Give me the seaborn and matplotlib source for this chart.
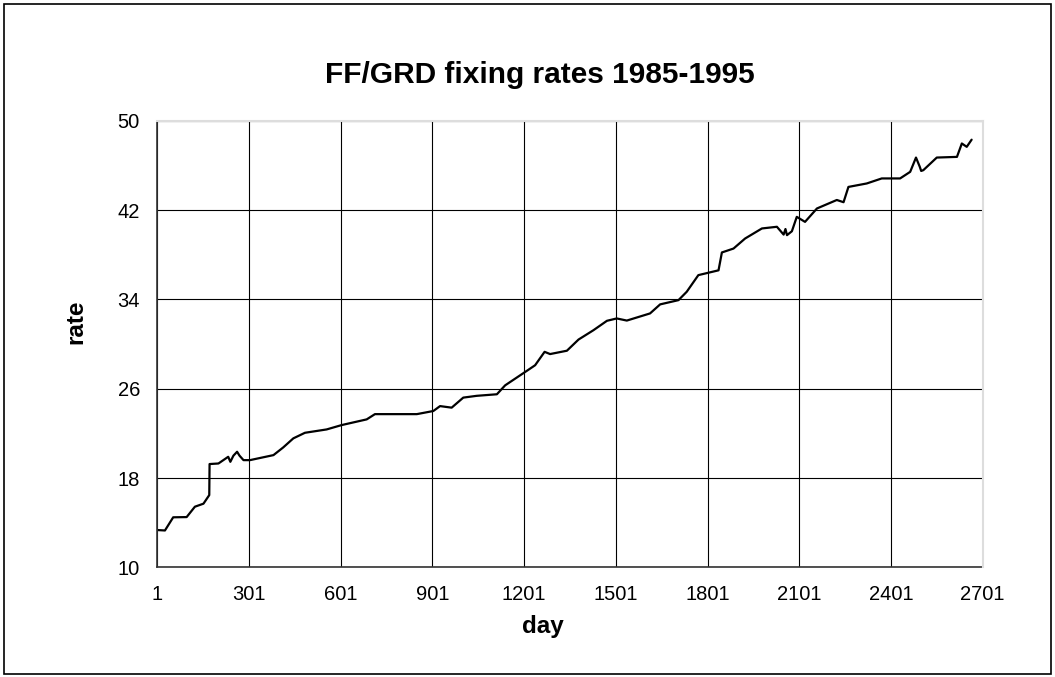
import matplotlib
matplotlib.use("Agg")
import matplotlib.pyplot as plt
from matplotlib.patches import Rectangle
import seaborn as sns

# breakpoints of the rate curve
days = [1, 26, 53, 97, 124, 152, 171, 172, 201, 233, 240, 250, 262, 270, 283, 304,
        381, 413, 446, 484, 555, 604, 686, 713, 850, 904, 926, 964, 1002, 1046,
        1112, 1139, 1210, 1237, 1268, 1286, 1341, 1379, 1428, 1472, 1504, 1537,
        1613, 1646, 1706, 1733, 1771, 1837, 1848, 1886, 1924, 1979, 2028, 2050,
        2056, 2061, 2077, 2093, 2120, 2159, 2224, 2246, 2262, 2322, 2371, 2431,
        2464, 2483, 2495, 2500, 2507, 2551, 2617, 2633, 2649, 2665]
rate = [13.34, 13.3, 14.48, 14.5, 15.43, 15.7, 16.47, 19.25, 19.3, 19.9, 19.45,
        20.0, 20.35, 20.0, 19.6, 19.6, 20.05, 20.74, 21.55, 22.05, 22.35, 22.74,
        23.25, 23.72, 23.72, 24.0, 24.44, 24.3, 25.2, 25.36, 25.5, 26.3, 27.6,
        28.1, 29.3, 29.1, 29.4, 30.4, 31.24, 32.08, 32.29, 32.1, 32.74, 33.55,
        33.93, 34.68, 36.17, 36.6, 38.2, 38.55, 39.45, 40.35, 40.5, 39.8, 40.3,
        39.75, 40.1, 41.39, 40.94, 42.14, 42.9, 42.7, 44.07, 44.38, 44.83, 44.83,
        45.42, 46.7, 45.9, 45.5, 45.57, 46.7, 46.76, 47.96, 47.66, 48.3]

xtick_vals = list(range(1, 2702, 300))
ytick_vals = [10, 18, 26, 34, 42, 50]

sns.set_style("white")
plt.rcParams['font.family'] = ['Liberation Sans', 'DejaVu Sans']
plt.rcParams['text.color'] = 'black'
plt.rcParams['xtick.color'] = 'black'
plt.rcParams['ytick.color'] = 'black'

fig = plt.figure(figsize=(10.55, 6.77), dpi=100)
ax = fig.add_axes([0.1491, 0.162, 0.7823, 0.6597])

sns.lineplot(x=days, y=rate, ax=ax, color="black", linewidth=1.6,
             estimator=None, sort=False)

ax.set_xlim(1, 2701)
ax.set_ylim(10, 50)
ax.set_xticks(xtick_vals)
ax.set_yticks(ytick_vals)
ax.tick_params(axis="both", labelsize=14.5, colors="black", direction="inout",
               length=9, width=1, pad=8)
ax.grid(True, color="black", linewidth=0.8)
ax.set_axisbelow(True)

for side in ["left", "bottom"]:
    ax.spines[side].set_color("#333333")
    ax.spines[side].set_linewidth(1.2)
for side in ["top", "right"]:
    ax.spines[side].set_color("#dddddd")
    ax.spines[side].set_linewidth(1.5)
    ax.spines[side].set_zorder(5)

ax.set_xlabel("")
ax.set_ylabel("")
fig.text(540 / 1055, 1 - 75 / 677, "FF/GRD fixing rates 1985-1995",
         ha="center", va="center", fontsize=21.5, fontweight="bold")
fig.text(543 / 1055, 1 - 626 / 677, "day", ha="center", va="center",
         fontsize=17.5, fontweight="bold")
fig.text(76 / 1055, 1 - 322 / 677, "rate", ha="center", va="center",
         rotation=90, fontsize=17.5, fontweight="bold")

# outer chart border
fig.patches.append(Rectangle((4 / 1055, 3 / 677), 1047 / 1055, 670 / 677,
                             transform=fig.transFigure, fill=False,
                             edgecolor="black", linewidth=1.2))

fig.savefig("out.png", dpi=100)
